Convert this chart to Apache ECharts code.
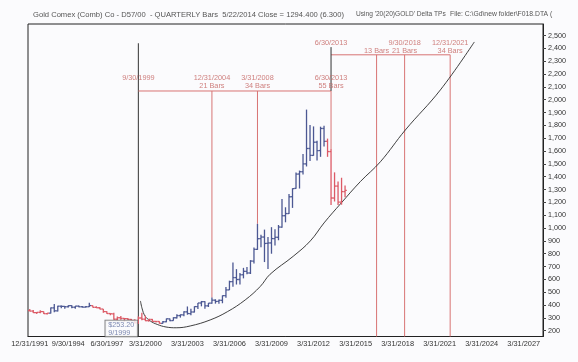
<!DOCTYPE html>
<html><head><meta charset="utf-8">
<script src="https://cdn.jsdelivr.net/npm/echarts@6/dist/echarts.min.js"></script>
<style>html,body{margin:0;padding:0;background:#fbfbfd}#c{width:578px;height:362px}</style>
</head><body><div id="c"></div>
<script>
// ---------- DATA ----------
const quarterEnds = ['3/31', '6/30', '9/30', '12/31'];
const categories = [];
for (let k = 0; k < 147; k++) { categories.push(quarterEnds[(3 + k) % 4] + '/' + (1991 + Math.floor((3 + k) / 4))); }

const xTickLabels = ['12/31/1991','9/30/1994','6/30/1997','3/31/2000','3/31/2003','3/31/2006','3/31/2009','3/31/2012','3/31/2015','3/31/2018','3/31/2021','3/31/2024','3/31/2027'];
const yTickValues = [200,300,400,500,600,700,800,900,1000,1100,1200,1300,1400,1500,1600,1700,1800,1900,2000,2100,2200,2300,2400,2500];

// quarterly bars 12/31/1991 .. 6/30/2014
const opens = [357,353,341,343,349,333,337,378,355,391,390,387,395,383,392,387,384,387,396,382,379,369,349,334,332,290,301,296,294,288,280,262,299,290,278,288,273,272,258,270,293,279,301,318,324,347,334,346,388,416,426,394,415,438,428,437,473,518,582,614,599,636,663,650,743,834,917,930,880,884,918,928,1008,1096,1113,1244,1309,1421,1439,1500,1620,1566,1669,1604,1776,1676,1596,1234,1327,1202,1284];
const highs = [370,362,345,360,350,338,380,409,395,397,392,398,398,392,397,392,392,418,397,390,385,370,352,336,340,310,315,300,300,292,290,312,340,318,294,292,275,274,275,295,295,305,329,327,351,389,372,390,417,432,430,416,458,445,443,475,540,590,732,680,650,690,697,750,848,1033,948,988,930,1007,990,1024,1227,1162,1265,1310,1432,1448,1577,1923,1803,1792,1680,1790,1798,1697,1616,1434,1362,1392,1332];
const lows = [352,338,330,336,331,326,335,343,350,375,372,380,375,372,383,380,381,385,380,378,367,340,333,320,285,280,285,271,284,277,257,253,282,275,270,270,264,255,256,266,274,278,296,302,312,325,320,342,370,390,371,385,410,411,411,414,456,517,543,560,560,608,640,642,723,830,850,735,681,800,865,905,1003,1045,1110,1157,1306,1308,1417,1480,1522,1563,1527,1555,1636,1555,1180,1207,1180,1182,1240];
const closes = [353,341,343,349,333,337,378,355,391,390,387,395,383,392,387,384,387,396,382,379,369,349,334,332,290,301,296,294,288,280,262,299,290,278,288,273,272,258,270,293,279,301,318,324,347,334,346,388,416,426,394,415,438,428,437,473,518,582,614,599,636,663,650,743,834,917,930,880,884,918,928,1008,1096,1113,1244,1307,1421,1439,1500,1620,1566,1669,1604,1776,1676,1596,1234,1327,1202,1284,1294];
const trendRuns = [['down',6],['up',12],['down',20],['up',47],['down',6]];

// time-cycle annotations
const turnDates = ['9/30/1999','12/31/2004','3/31/2008','6/30/2013'];
const turnBars = ['', '21 Bars', '34 Bars', '55 Bars'];
const projDates = ['6/30/2013','9/30/2016','9/30/2018','12/31/2021'];
const projDateText = ['6/30/2013','','9/30/2018','12/31/2021'];
const projBars = ['', '13 Bars', '21 Bars', '34 Bars'];
const lowerLevel = 2068, upperLevel = 2350;
const lowerDateY = 2170, lowerBarsY = 2107, upperDateY = 2443, upperBarsY = 2380;
const line1999Top = 2440, line2013Top = 2410;
const lowLabel = ['9/30/1999', '$253.20\n9/1999'];

// support curve (quarter index, price)
const curveIdx =   [31.6,32.1,32.9,34.4,36.4,38.9,41.8,45.8,51.5,56.4,61.5,65.8,68.6,75.2,80.1,84.0,88.9,94.4,100.1,107.2,117.2,126.9];
const curvePrice = [432, 370, 315, 276, 249, 229, 223, 237, 284, 348, 440, 545, 640, 780, 900, 1040,1195,1363,1517,1764,2076,2450];

// ---------- CHART ----------
const trend = [];
trendRuns.forEach(([t, n]) => { for (let j = 0; j < n; j++) trend.push(t); });
const BLUE = '#4c5893', RED = '#dc5a66', ANN = '#d87474', ANNTXT = '#c4615f';
const YMIN = 155, YMAX = 2590;
const idxOf = d => categories.indexOf(d);

const segs = [];
const seg = (a, b, color) => segs.push({ type: 'line', xAxisIndex: 0, yAxisIndex: 0, data: [a, b], symbol: 'none', silent: true,
  lineStyle: { color: color, width: 1 }, z: 3, animation: false });
seg([turnDates[0], line1999Top], [turnDates[0], YMIN], '#333');
seg([turnDates[0], lowerLevel], [turnDates[3], lowerLevel], ANN);
turnDates.slice(1).forEach(d => seg([d, lowerLevel], [d, highs[idxOf(d)]], ANN));
seg([projDates[0], upperLevel], [projDates[3], upperLevel], ANN);
projDates.slice(1).forEach(d => seg([d, upperLevel], [d, YMIN], ANN));
seg([projDates[0], line2013Top], [projDates[0], lowerLevel], '#333');

const annLabels = [];
turnDates.forEach((d, i) => { annLabels.push([d, lowerDateY, d]); if (turnBars[i]) annLabels.push([d, lowerBarsY, turnBars[i]]); });
projDates.forEach((d, i) => { if (projDateText[i]) annLabels.push([d, upperDateY, projDateText[i]]); if (projBars[i]) annLabels.push([d, upperBarsY, projBars[i]]); });

const chart = echarts.init(document.getElementById('c'), null, { renderer: 'canvas' });
const FONT = '"Liberation Sans", Arial, sans-serif';
const ts = (s) => ({ fontSize: s, fontWeight: 'normal', color: '#555', fontFamily: FONT });
chart.setOption({
  backgroundColor: '#fbfbfd',
  animation: false,
  textStyle: { fontFamily: FONT },
  title: [
    { text: 'Gold Comex (Comb) Co - D57/00  - QUARTERLY Bars  5/22/2014 Close = 1294.400 (6.300)', left: 33, top: 11, padding: 0, textStyle: ts(7.6) },
    { text: "Using '20(20)GOLD' Delta TPs", left: 356, top: 11, padding: 0, textStyle: ts(6.6) },
    { text: 'File: C:\\Gd\\new folder\\F018.DTA (', left: 450, top: 11, padding: 0, textStyle: ts(6.8) }
  ],
  grid: { left: 28, right: 35, top: 24, bottom: 25.5, show: true, borderColor: '#222', borderWidth: 1, outerBoundsMode: 'none', containLabel: false },
  xAxis: [{
    type: 'category', data: categories, boundaryGap: true,
    axisLine: { onZero: false, lineStyle: { color: '#222' } },
    axisTick: { alignWithLabel: true, length: 3, interval: (i) => i % 3 === 0, lineStyle: { color: '#444' } },
    axisLabel: { interval: (i, v) => xTickLabels.includes(v), fontSize: 7.4, color: '#333', margin: 4, fontFamily: FONT },
    splitLine: { show: false }
  }, {
    type: 'value', min: -0.5, max: 146.5, show: false,
    axisLine: { show: false, onZero: false }, axisTick: { show: false }, axisLabel: { show: false }, splitLine: { show: false }
  }],
  yAxis: {
    type: 'value', position: 'right', min: YMIN, max: YMAX,
    name: 'Price', nameLocation: 'middle', nameRotate: -90, nameGap: 32,
    nameTextStyle: { fontSize: 7.2, color: '#333', fontFamily: FONT },
    axisLine: { show: true, onZero: false, lineStyle: { color: '#222' } },
    axisTick: { show: true, length: 3, customValues: yTickValues, lineStyle: { color: '#444' } },
    axisLabel: { customValues: yTickValues, fontSize: 7.2, color: '#333', margin: 5, fontFamily: FONT,
      formatter: v => v.toLocaleString('en-US') },
    splitLine: { show: false }
  },
  series: [
    ...segs,
    {
      type: 'custom', xAxisIndex: 0, yAxisIndex: 0, z: 5,
      data: highs.map((h, i) => [i, opens[i], h, lows[i], closes[i]]),
      encode: { x: 0, y: [1, 2, 3, 4] },
      renderItem: (params, api) => {
        const i = api.value(0);
        const pH = api.coord([i, api.value(2)]), pL = api.coord([i, api.value(3)]);
        const pO = api.coord([i, api.value(1)]), pC = api.coord([i, api.value(4)]);
        const half = api.size([1, 0])[0] * 0.5;
        const st = { stroke: trend[i] === 'up' ? BLUE : RED, lineWidth: 1.3 };
        return { type: 'group', children: [
          { type: 'line', shape: { x1: pH[0], y1: pH[1], x2: pL[0], y2: pL[1] }, style: st },
          { type: 'line', shape: { x1: pO[0] - half, y1: pO[1], x2: pO[0], y2: pO[1] }, style: st },
          { type: 'line', shape: { x1: pC[0], y1: pC[1], x2: pC[0] + half, y2: pC[1] }, style: st }
        ] };
      }
    },
    {
      type: 'line', xAxisIndex: 1, yAxisIndex: 0, smooth: 0.4, symbol: 'none', z: 4,
      data: curveIdx.map((x, i) => [x, curvePrice[i]]),
      lineStyle: { color: '#2a2a2a', width: 0.9 }
    },
    {
      type: 'scatter', xAxisIndex: 0, yAxisIndex: 0, symbolSize: 0, z: 6, silent: true,
      data: annLabels,
      label: { show: true, position: 'inside', formatter: p => p.data[2], fontSize: 7.3, color: ANNTXT, fontFamily: FONT }
    },
    {
      type: 'scatter', xAxisIndex: 0, yAxisIndex: 0, symbolSize: 0, z: 7, silent: true,
      data: [[lowLabel[0], YMIN, lowLabel[1]]],
      label: { show: true, position: 'inside', align: 'left', verticalAlign: 'bottom', offset: [-33, 0],
        formatter: p => p.data[2], fontSize: 7.2, lineHeight: 7.5, color: '#5d6b9e', fontFamily: FONT,
        backgroundColor: '#fbfbfd', borderColor: '#555', borderWidth: 0.8, padding: [1, 3, 0, 3] }
    }
  ]
});
</script></body></html>
